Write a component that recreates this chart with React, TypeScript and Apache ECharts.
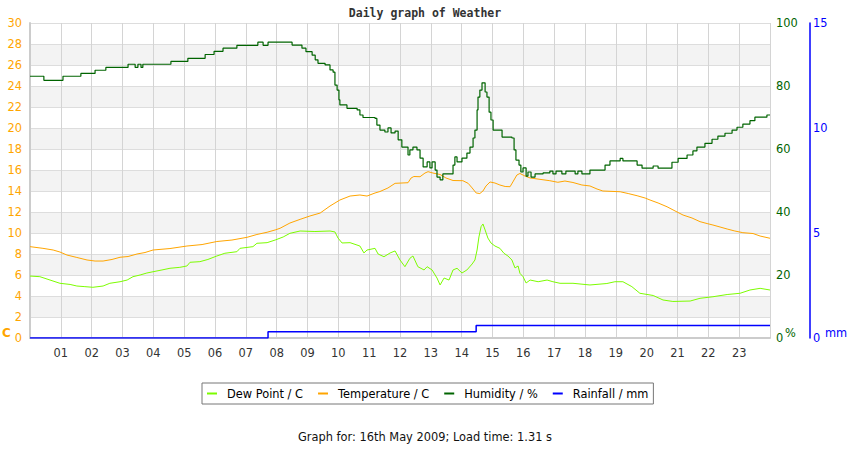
import { useEffect, useRef } from 'react';
import * as echarts from 'echarts';

// hour labels along the bottom (0 and 24 stay blank)
const hourLabels = [
  '01', '02', '03', '04', '05', '06', '07', '08', '09', '10', '11', '12',
  '13', '14', '15', '16', '17', '18', '19', '20', '21', '22', '23',
];

// [hour, °C]
const dewPointData: [number, number][] = [
  [0, 5.9], [0.32, 5.84], [0.65, 5.52], [0.97, 5.21], [1.3, 5.1], [1.52, 4.95], [1.78, 4.89],
  [2.04, 4.83], [2.37, 4.95], [2.59, 5.21], [2.92, 5.36], [3.15, 5.52], [3.34, 5.84], [3.57, 6.0],
  [3.79, 6.19], [3.99, 6.31], [4.28, 6.48], [4.54, 6.64], [4.86, 6.73], [5.09, 6.86], [5.19, 7.21],
  [5.51, 7.27], [5.77, 7.48], [6.06, 7.81], [6.32, 8.07], [6.71, 8.22], [6.81, 8.54], [7.23, 8.7],
  [7.36, 9.02], [7.69, 9.08], [7.95, 9.33], [8.21, 9.62], [8.43, 9.97], [8.76, 10.19], [9.24, 10.14],
  [9.73, 10.19], [9.89, 10.1], [9.99, 9.52], [10.12, 9.05], [10.38, 9.08], [10.7, 8.76], [10.83, 8.1],
  [10.93, 8.38], [11.19, 8.54], [11.29, 8.0], [11.48, 7.74], [11.68, 8.1], [11.84, 8.29], [12.0, 7.43],
  [12.16, 6.79], [12.32, 7.59], [12.42, 7.81], [12.58, 6.79], [12.78, 6.48], [12.88, 6.79], [13.04, 6.48],
  [13.2, 5.71], [13.3, 5.05], [13.43, 5.71], [13.59, 5.52], [13.72, 6.48], [13.85, 6.64], [14.01, 6.19],
  [14.17, 6.48], [14.34, 7.05], [14.43, 7.43], [14.5, 8.38], [14.56, 9.62], [14.63, 10.6], [14.69, 10.86],
  [14.76, 10.29], [14.85, 9.52], [14.95, 9.05], [15.08, 8.76], [15.24, 8.54], [15.37, 8.07], [15.5, 7.81],
  [15.63, 7.43], [15.73, 6.67], [15.83, 6.86], [15.89, 6.16], [15.99, 5.84], [16.09, 5.24], [16.22, 5.52],
  [16.48, 5.36], [16.77, 5.52], [16.96, 5.36], [17.19, 5.21], [17.61, 5.21], [18.16, 5.05], [18.71, 5.19],
  [18.97, 5.36], [19.23, 5.36], [19.52, 4.89], [19.78, 4.26], [20.21, 4.05], [20.53, 3.62], [20.85, 3.48],
  [21.41, 3.52], [21.73, 3.78], [22.15, 3.93], [22.61, 4.14], [23.03, 4.26], [23.35, 4.57], [23.68, 4.73],
  [24, 4.57],
];

// [hour, °C]
const temperatureData: [number, number][] = [
  [0, 8.7], [0.42, 8.54], [0.75, 8.38], [0.97, 8.19], [1.2, 7.9], [1.52, 7.67], [1.85, 7.43], [2.11, 7.33],
  [2.37, 7.33], [2.66, 7.48], [2.92, 7.69], [3.18, 7.76], [3.47, 8.0], [3.73, 8.14], [3.99, 8.38],
  [4.54, 8.52], [5.09, 8.76], [5.58, 8.9], [6.06, 9.19], [6.55, 9.33], [7.04, 9.59], [7.36, 9.86],
  [7.69, 10.07], [7.95, 10.29], [8.11, 10.45], [8.43, 10.95], [8.76, 11.3], [9.08, 11.62], [9.41, 11.9],
  [9.73, 12.57], [10.05, 13.14], [10.38, 13.52], [10.7, 13.62], [10.93, 13.52], [11.19, 13.81],
  [11.35, 13.95], [11.61, 14.29], [11.84, 14.73], [12.26, 14.79], [12.36, 15.24], [12.45, 15.38],
  [12.65, 15.36], [12.81, 15.71], [12.91, 15.84], [13.07, 15.71], [13.3, 15.57], [13.49, 15.24],
  [13.72, 15.0], [14.04, 14.98], [14.21, 14.73], [14.34, 14.29], [14.47, 13.81], [14.59, 13.76],
  [14.69, 14.0], [14.79, 14.48], [14.92, 14.86], [15.08, 14.76], [15.24, 14.57], [15.41, 14.43],
  [15.57, 14.41], [15.66, 14.86], [15.79, 15.52], [15.89, 15.67], [16.05, 15.43], [16.22, 15.24],
  [16.54, 15.11], [16.86, 14.98], [17.12, 14.83], [17.35, 14.95], [17.61, 14.81], [17.9, 14.57],
  [18.16, 14.48], [18.39, 14.19], [18.58, 14.0], [19.14, 13.93], [19.4, 13.76], [19.69, 13.55],
  [19.95, 13.33], [20.11, 13.14], [20.37, 12.86], [20.66, 12.5], [20.92, 12.1], [21.18, 11.71],
  [21.47, 11.43], [21.73, 11.08], [21.96, 10.9], [22.15, 10.76], [22.38, 10.57], [22.61, 10.38],
  [22.86, 10.19], [23.12, 10.03], [23.45, 9.95], [23.68, 9.71], [24, 9.5],
];

// [hour, %]
const humidityData: [number, number][] = [
  [0, 83.1], [0.45, 81.8], [1.07, 83.1], [1.65, 84.0], [2.11, 85.0], [2.46, 85.9], [3.18, 86.9],
  [3.41, 85.9], [3.5, 86.9], [3.6, 85.9], [3.66, 86.9], [4.57, 87.8], [5.12, 88.8], [5.68, 90.0],
  [5.97, 91.0], [6.26, 92.0], [6.71, 92.9], [7.39, 93.9], [7.56, 92.9], [7.72, 93.9], [8.5, 93.0],
  [8.82, 92.0], [8.95, 90.9], [9.15, 89.8], [9.25, 88.3], [9.34, 87.2], [9.57, 86.7], [9.73, 85.1],
  [9.83, 84.4], [9.89, 80.3], [9.96, 78.7], [10.02, 75.6], [10.05, 74.0], [10.28, 72.9], [10.61, 72.4],
  [10.7, 70.8], [10.8, 70.0], [11.19, 69.7], [11.25, 67.6], [11.35, 66.0], [11.51, 65.4], [11.61, 66.7],
  [11.71, 65.1], [11.84, 65.7], [11.94, 62.9], [12.06, 60.6], [12.26, 58.1], [12.32, 59.7], [12.42, 60.6],
  [12.55, 59.7], [12.65, 57.1], [12.75, 54.3], [12.88, 55.9], [12.97, 54.0], [13.04, 55.9], [13.14, 53.3],
  [13.2, 51.1], [13.3, 50.2], [13.39, 52.1], [13.62, 52.1], [13.72, 54.9], [13.78, 57.5], [13.85, 55.9],
  [14.01, 57.1], [14.17, 58.7], [14.27, 60.6], [14.37, 63.5], [14.43, 66.0], [14.5, 72.4], [14.53, 76.5],
  [14.59, 78.7], [14.66, 81.0], [14.76, 78.1], [14.82, 76.5], [14.89, 71.7], [14.95, 69.2], [15.02, 66.0],
  [15.18, 66.0], [15.31, 63.8], [15.63, 63.5], [15.7, 59.7], [15.76, 56.5], [15.86, 54.9], [15.92, 52.7],
  [15.99, 54.0], [16.09, 51.4], [16.15, 52.7], [16.25, 51.1], [16.38, 52.1], [16.64, 52.4], [16.86, 53.0],
  [16.96, 52.1], [17.06, 53.0], [17.25, 52.1], [17.38, 53.0], [17.68, 52.1], [17.77, 53.0], [17.9, 52.1],
  [18.16, 53.3], [18.65, 54.9], [18.81, 56.2], [19.14, 57.0], [19.23, 56.2], [19.69, 54.9], [19.85, 53.9],
  [20.21, 54.6], [20.37, 53.9], [20.82, 55.8], [21.02, 57.0], [21.31, 58.1], [21.5, 59.4], [21.63, 60.6],
  [21.89, 61.8], [22.12, 63.1], [22.31, 64.1], [22.54, 65.0], [22.77, 66.0], [22.93, 66.9], [23.12, 67.9],
  [23.35, 69.0], [23.51, 70.1], [23.9, 70.8], [24, 70.8],
];

// [hour, mm]
const rainfallData: [number, number][] = [
  [0, 0], [7.72, 0.3], [14.47, 0.6], [24, 0.6],
];

const FONT = 'DejaVu Sans';

export default function App() {
  const chartRef = useRef<HTMLDivElement>(null);

  useEffect(() => {
    document.body.style.margin = '0';
    if (!chartRef.current) return;
    const chart = echarts.init(chartRef.current, undefined, { renderer: 'svg' });

    const option: echarts.EChartsOption = {
      animation: false,
      backgroundColor: '#fff',
      textStyle: { fontFamily: FONT },
      title: [
        {
          text: 'Daily graph of Weather',
          left: 'center',
          top: 7,
          padding: 0,
          textStyle: { fontFamily: 'DejaVu Sans Mono', fontWeight: 'bold', fontSize: 11.5, color: '#333' },
        },
        {
          text: 'Graph for: 16th May 2009; Load time: 1.31 s',
          left: 'center',
          top: 431,
          padding: 0,
          textStyle: { fontFamily: FONT, fontWeight: 'normal', fontSize: 11.4, color: '#111' },
        },
      ],
      legend: {
        left: 202,
        top: 383,
        padding: [5, 5, 5, 5],
        borderColor: '#777',
        borderWidth: 1,
        itemWidth: 10,
        itemHeight: 2,
        itemGap: 15,
        icon: 'rect',
        textStyle: { fontFamily: FONT, fontSize: 11.4, color: '#000', padding: [0, 0, 0, 5] },
        data: ['Dew Point / C', 'Temperature / C', 'Humidity / %', 'Rainfall / mm'],
      },
      grid: { left: 30, right: 80, top: 23, bottom: 112, containLabel: false },
      xAxis: {
        type: 'value',
        min: 0,
        max: 24,
        interval: 1,
        axisLine: { lineStyle: { color: '#cccccc', width: 2 } },
        axisTick: { show: false },
        axisLabel: {
          color: '#333',
          fontSize: 11.4,
          margin: 9,
          formatter: (v: number) => hourLabels[v - 1] ?? '',
        },
        splitLine: { show: true, lineStyle: { color: '#d4d4d4' } },
      },
      yAxis: [
        {
          type: 'value',
          position: 'left',
          min: 0,
          max: 30,
          interval: 2,
          axisLine: { show: true, lineStyle: { color: '#cccccc', width: 2 } },
          axisTick: { show: false },
          axisLabel: { color: '#ffa500', fontSize: 11.4, margin: 8 },
          splitLine: { show: true, lineStyle: { color: '#dddddd' } },
          splitArea: { show: true, areaStyle: { color: ['#ffffff', '#f3f3f3'] } },
        },
        {
          type: 'value',
          position: 'right',
          min: 0,
          max: 100,
          interval: 20,
          axisLine: { show: false },
          axisTick: { show: false },
          axisLabel: { color: '#006400', fontSize: 11.4, margin: 6 },
          splitLine: { show: false },
        },
        {
          type: 'value',
          position: 'right',
          offset: 40,
          min: 0,
          max: 15,
          interval: 5,
          axisLine: { show: true, lineStyle: { color: '#0000ff', width: 1.5 } },
          axisTick: { show: false },
          axisLabel: { color: '#0000ff', fontSize: 11.4, margin: 3 },
          splitLine: { show: false },
        },
      ],
      graphic: [
        {
          type: 'text',
          x: 2,
          y: 333,
          style: { text: 'C', fill: '#ffa500', font: `bold 12px ${FONT}`, verticalAlign: 'middle' },
        },
        {
          type: 'text',
          x: 785,
          y: 333,
          style: { text: '%', fill: '#006400', font: `11.4px ${FONT}`, verticalAlign: 'middle' },
        },
        {
          type: 'text',
          x: 825,
          y: 333,
          style: { text: 'mm', fill: '#0000ff', font: `11.4px ${FONT}`, verticalAlign: 'middle' },
        },
      ],
      series: [
        {
          name: 'Dew Point / C',
          type: 'line',
          yAxisIndex: 0,
          data: dewPointData,
          showSymbol: false,
          symbol: 'none',
          color: '#7cfc00',
          lineStyle: { width: 1, color: '#7cfc00' },
        },
        {
          name: 'Temperature / C',
          type: 'line',
          yAxisIndex: 0,
          data: temperatureData,
          showSymbol: false,
          symbol: 'none',
          color: '#ffa500',
          lineStyle: { width: 1, color: '#ffa500' },
        },
        {
          name: 'Humidity / %',
          type: 'line',
          yAxisIndex: 1,
          data: humidityData,
          step: 'end',
          showSymbol: false,
          symbol: 'none',
          color: '#006400',
          lineStyle: { width: 1.2, color: '#006400' },
        },
        {
          name: 'Rainfall / mm',
          type: 'line',
          yAxisIndex: 2,
          data: rainfallData,
          step: 'end',
          showSymbol: false,
          symbol: 'none',
          color: '#0000ff',
          lineStyle: { width: 1.5, color: '#0000ff' },
        },
      ],
    };

    chart.setOption(option);

    return () => {
      chart.dispose();
    };
  }, []);

  return <div ref={chartRef} style={{ width: 850, height: 450 }} />;
}
